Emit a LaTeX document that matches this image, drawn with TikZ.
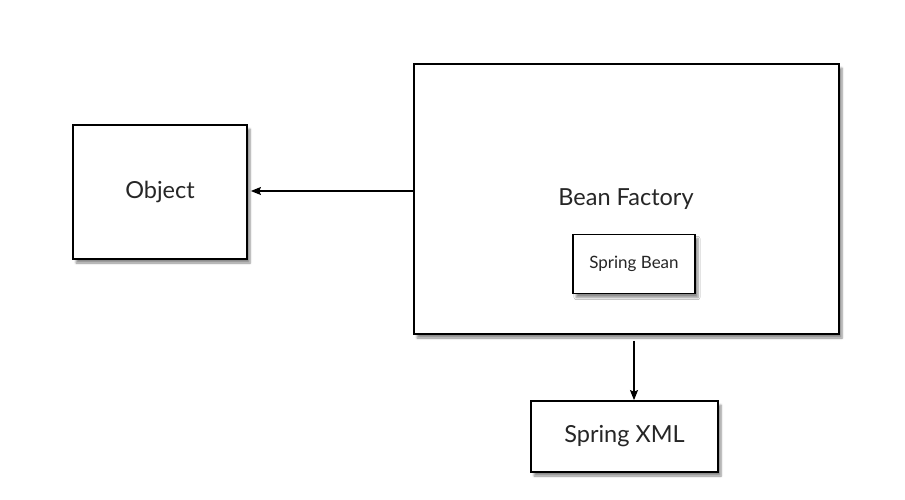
\documentclass[tikz,border=0pt]{standalone}
\usepackage{fontspec}
\setmainfont{Lato}
\usetikzlibrary{shadows.blur, arrows.meta}
\tikzset{
	box/.style={draw, line width=1.8pt, fill=white, align=center, text=black!85,
		blur shadow={shadow xshift=3pt, shadow yshift=-4pt, shadow blur steps=6, shadow opacity=45}},
	big/.style={font=\fontsize{23.5}{28}\selectfont},
}
\begin{document}
\begin{tikzpicture}[x=1pt, y=-1pt, >={Stealth[length=10pt, width=8pt, inset=1.5pt]}]
				\useasboundingbox (0,0) rectangle (905,500);
				\node[box, big, minimum width=174pt, minimum height=134pt] (obj) at (160,192) {Object};
				\node[box, minimum width=425pt, minimum height=270pt] (factory) at (626.5,199) {};
				\node[big, text=black!85] (factorylabel) at (626,199) {Bean Factory};
				\node[box, minimum width=122pt, minimum height=59pt, font=\fontsize{17}{20}\selectfont] (bean) at (634,264) {Spring Bean};
				\node[box, big, minimum width=187pt, minimum height=71pt] (xml) at (624.5,436.5) {Spring XML};
				\draw[->, line width=1.1pt] (factory.west |- 0,191) -- ([xshift=3pt]obj.east |- 0,191);
				\draw[->, line width=1.1pt] ([yshift=-6pt]factory.south -| bean.south) -- (bean.south |- xml.north);
			\end{tikzpicture}
\end{document}
